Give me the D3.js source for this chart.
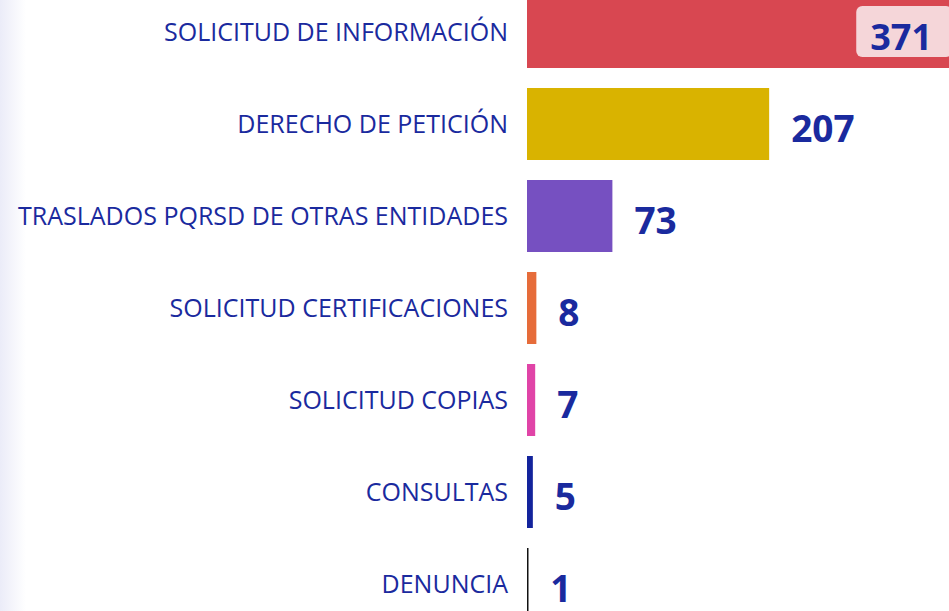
<!DOCTYPE html>
<html>
<head>
<meta charset="utf-8">
<script src="https://cdn.jsdelivr.net/npm/d3@7"></script>
<style>
  html, body { margin: 0; padding: 0; background: #fff; overflow: hidden; }
  svg { display: block; }
</style>
</head>
<body>
<svg id="chart" width="949" height="611"></svg>
<script>
const categories = [
  "SOLICITUD DE INFORMACIÓN",
  "DERECHO DE PETICIÓN",
  "TRASLADOS PQRSD DE OTRAS ENTIDADES",
  "SOLICITUD CERTIFICACIONES",
  "SOLICITUD COPIAS",
  "CONSULTAS",
  "DENUNCIA"
];
const values = [371, 207, 73, 8, 7, 5, 1];
const colors = ["#d84751", "#d9b300", "#7650c1", "#e66c3a", "#e044a7", "#13239c", "#111111"];

const W = 949, H = 611;
const svg = d3.select("#chart");

// left-edge soft gradient
const defs = svg.append("defs");
const g = defs.append("linearGradient").attr("id", "edge").attr("x1", 0).attr("x2", 1);
g.append("stop").attr("offset", 0).attr("stop-color", "#ebecf8");
g.append("stop").attr("offset", 1).attr("stop-color", "#ffffff");
svg.append("rect").attr("x", 0).attr("y", 0).attr("width", 26).attr("height", H).attr("fill", "url(#edge)");

const x = d3.scaleLinear().domain([0, 371]).range([527, 961]);
const y = d3.scaleBand().domain(categories).range([-14, 630])
  .paddingInner(20 / 92).paddingOuter(10 / 92);

const data = categories.map((c, i) => ({ c, v: values[i], color: colors[i] }));

const textColor = "#1a2a9e";

// bars
svg.append("g").selectAll("rect").data(data).join("rect")
  .attr("x", x(0))
  .attr("y", d => y(d.c))
  .attr("width", d => Math.max(1.5, x(d.v) - x(0)))
  .attr("height", y.bandwidth())
  .attr("fill", d => d.color);

// category labels
svg.append("g").selectAll("text").data(data).join("text")
  .attr("x", x(0) - 19)
  .attr("y", d => y(d.c) + y.bandwidth() / 2 + 9)
  .attr("text-anchor", "end")
  .attr("font-family", "'Open Sans', sans-serif")
  .attr("font-size", 25)
  .attr("fill", textColor)
  .text(d => d.c);

// value labels
const gap = 24;
const vl = svg.append("g");
data.forEach(d => {
  const cy = y(d.c) + y.bandwidth() / 2;
  const outside = x(d.v) + gap + 70 < W;
  if (outside) {
    vl.append("text")
      .attr("x", x(d.v) + gap - 2)
      .attr("y", cy + 17.5)
      .attr("font-family", "'Open Sans', sans-serif")
      .attr("font-weight", 700)
      .attr("font-size", 37)
      .attr("fill", textColor)
      .text(d.v);
  } else {
    const t = vl.append("text")
      .attr("x", W - 17)
      .attr("y", cy + 17.5)
      .attr("text-anchor", "end")
      .attr("font-family", "'Open Sans', sans-serif")
      .attr("font-weight", 700)
      .attr("font-size", 36)
      .attr("fill", textColor)
      .text(d.v);
    const bb = t.node().getBBox();
    vl.insert("rect", "text")
      .attr("x", bb.x - 14)
      .attr("y", cy - 26)
      .attr("width", bb.width + 34)
      .attr("height", 51)
      .attr("rx", 6)
      .attr("fill", "#f5d6d9");
  }
});
</script>
</body>
</html>
